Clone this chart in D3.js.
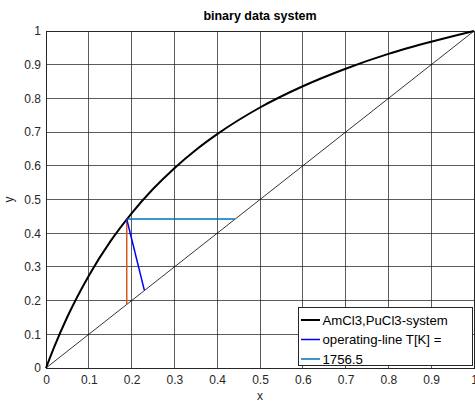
<!DOCTYPE html>
<html><head><meta charset="utf-8">
<script src="https://cdn.jsdelivr.net/npm/d3@7"></script>
<style>body{margin:0;background:#fff}svg{display:block}text{font-family:"Liberation Sans",Arial,sans-serif}</style>
</head><body>
<svg id="c" width="475" height="403"></svg>
<script>
// Equilibrium curve points
const eqX = [0, 0.02, 0.05, 0.1, 0.15, 0.2, 0.25, 0.3, 0.35, 0.4, 0.5, 0.6, 0.7, 0.8, 0.9, 1.0];
const eqY = [0, 0.065, 0.152, 0.274, 0.375, 0.459, 0.531, 0.593, 0.647, 0.694, 0.773, 0.836, 0.888, 0.932, 0.968, 1.0];
const diagX = [0, 1];
const diagY = [0, 1];
const opX = [0.1886, 0.2297];      // operating line (blue)
const opY = [0.442, 0.231];
const vertX = [0.1886, 0.1886];    // orange vertical step
const vertY = [0.189, 0.442];
const horX = [0.1886, 0.4416];     // light-blue horizontal step
const horY = [0.442, 0.442];
const ticks = [0, 0.1, 0.2, 0.3, 0.4, 0.5, 0.6, 0.7, 0.8, 0.9, 1];
const tickLabels = ["0", "0.1", "0.2", "0.3", "0.4", "0.5", "0.6", "0.7", "0.8", "0.9", "1"];
const legendLabels = ["AmCl3,PuCl3-system", "operating-line T[K] =", "1756.5"];
const legendColors = ["#000000", "#0000ff", "#0072BD"];

const svg = d3.select("#c");
const L = 46, R = 474, T = 31, B = 368;
const x = d3.scaleLinear().domain([0, 1]).range([L, R]);
const y = d3.scaleLinear().domain([0, 1]).range([B, T]);

// title
svg.append("text").attr("x", (L + R) / 2).attr("y", 20).attr("text-anchor", "middle")
  .attr("font-size", 12.5).attr("font-weight", "bold").text("binary data system");

// grid
const g = svg.append("g");
g.selectAll(".gx").data(ticks).join("line")
  .attr("x1", d => x(d)).attr("x2", d => x(d)).attr("y1", T).attr("y2", B)
  .attr("stroke", "#262626").attr("stroke-opacity", 0.75).attr("stroke-width", 1).attr("shape-rendering", "crispEdges");
g.selectAll(".gy").data(ticks).join("line")
  .attr("y1", d => y(d)).attr("y2", d => y(d)).attr("x1", L).attr("x2", R)
  .attr("stroke", "#262626").attr("stroke-opacity", 0.75).attr("stroke-width", 1).attr("shape-rendering", "crispEdges");

// axes
const xAxis = d3.axisBottom(x).tickValues(ticks).tickFormat((d, i) => tickLabels[i]).tickSize(0).tickPadding(7);
const yAxis = d3.axisLeft(y).tickValues(ticks).tickFormat((d, i) => tickLabels[i]).tickSize(0).tickPadding(5);
const ax = svg.append("g").attr("transform", `translate(0,${B})`).call(xAxis);
const ay = svg.append("g").attr("transform", `translate(${L},0)`).call(yAxis);
[ax, ay].forEach(a => {
  a.select(".domain").remove();
  a.selectAll("text").attr("font-size", 12).attr("fill", "#262626").attr("font-family", "Liberation Sans, Arial, sans-serif");
});

// box
svg.append("rect").attr("x", L).attr("y", T).attr("width", R - L).attr("height", B - T)
  .attr("fill", "none").attr("stroke", "#262626").attr("stroke-width", 1).attr("shape-rendering", "crispEdges");

// axis labels
svg.append("text").attr("x", (L + R) / 2).attr("y", 400).attr("text-anchor", "middle")
  .attr("font-size", 12).attr("fill", "#262626").text("x");
svg.append("text").attr("transform", `translate(13,${(T + B) / 2}) rotate(-90)`).attr("text-anchor", "middle")
  .attr("font-size", 12).attr("fill", "#262626").text("y");

const line = d3.line().x(d => x(d[0])).y(d => y(d[1]));
const zip = (a, b) => a.map((v, i) => [v, b[i]]);

// diagonal
svg.append("path").attr("d", line(zip(diagX, diagY))).attr("fill", "none").attr("stroke", "#000").attr("stroke-width", 0.8);
// equilibrium curve
svg.append("path").attr("d", d3.line().curve(d3.curveMonotoneX).x(d => x(d[0])).y(d => y(d[1]))(zip(eqX, eqY)))
  .attr("fill", "none").attr("stroke", "#000").attr("stroke-width", 2);
// steps
svg.append("path").attr("d", line(zip(vertX, vertY))).attr("fill", "none").attr("stroke", "#D95319").attr("stroke-width", 1.5);
svg.append("path").attr("d", line(zip(horX, horY))).attr("fill", "none").attr("stroke", "#0072BD").attr("stroke-width", 1.5);
svg.append("path").attr("d", line(zip(opX, opY))).attr("fill", "none").attr("stroke", "#0000ff").attr("stroke-width", 1.5);

// legend
const lg = svg.append("g");
lg.append("rect").attr("x", 298.5).attr("y", 307.5).attr("width", 174).attr("height", 58)
  .attr("fill", "#fff").attr("stroke", "#262626").attr("stroke-width", 1);
legendLabels.forEach((t, i) => {
  const yy = 320 + i * 19.5;
  lg.append("line").attr("x1", 301).attr("x2", 320).attr("y1", yy).attr("y2", yy)
    .attr("stroke", legendColors[i]).attr("stroke-width", i === 0 ? 2 : 1.5);
  lg.append("text").attr("x", 322.5).attr("y", yy + 4.7).attr("font-size", 13.2).attr("fill", "#000").text(t);
});
</script>
</body></html>
